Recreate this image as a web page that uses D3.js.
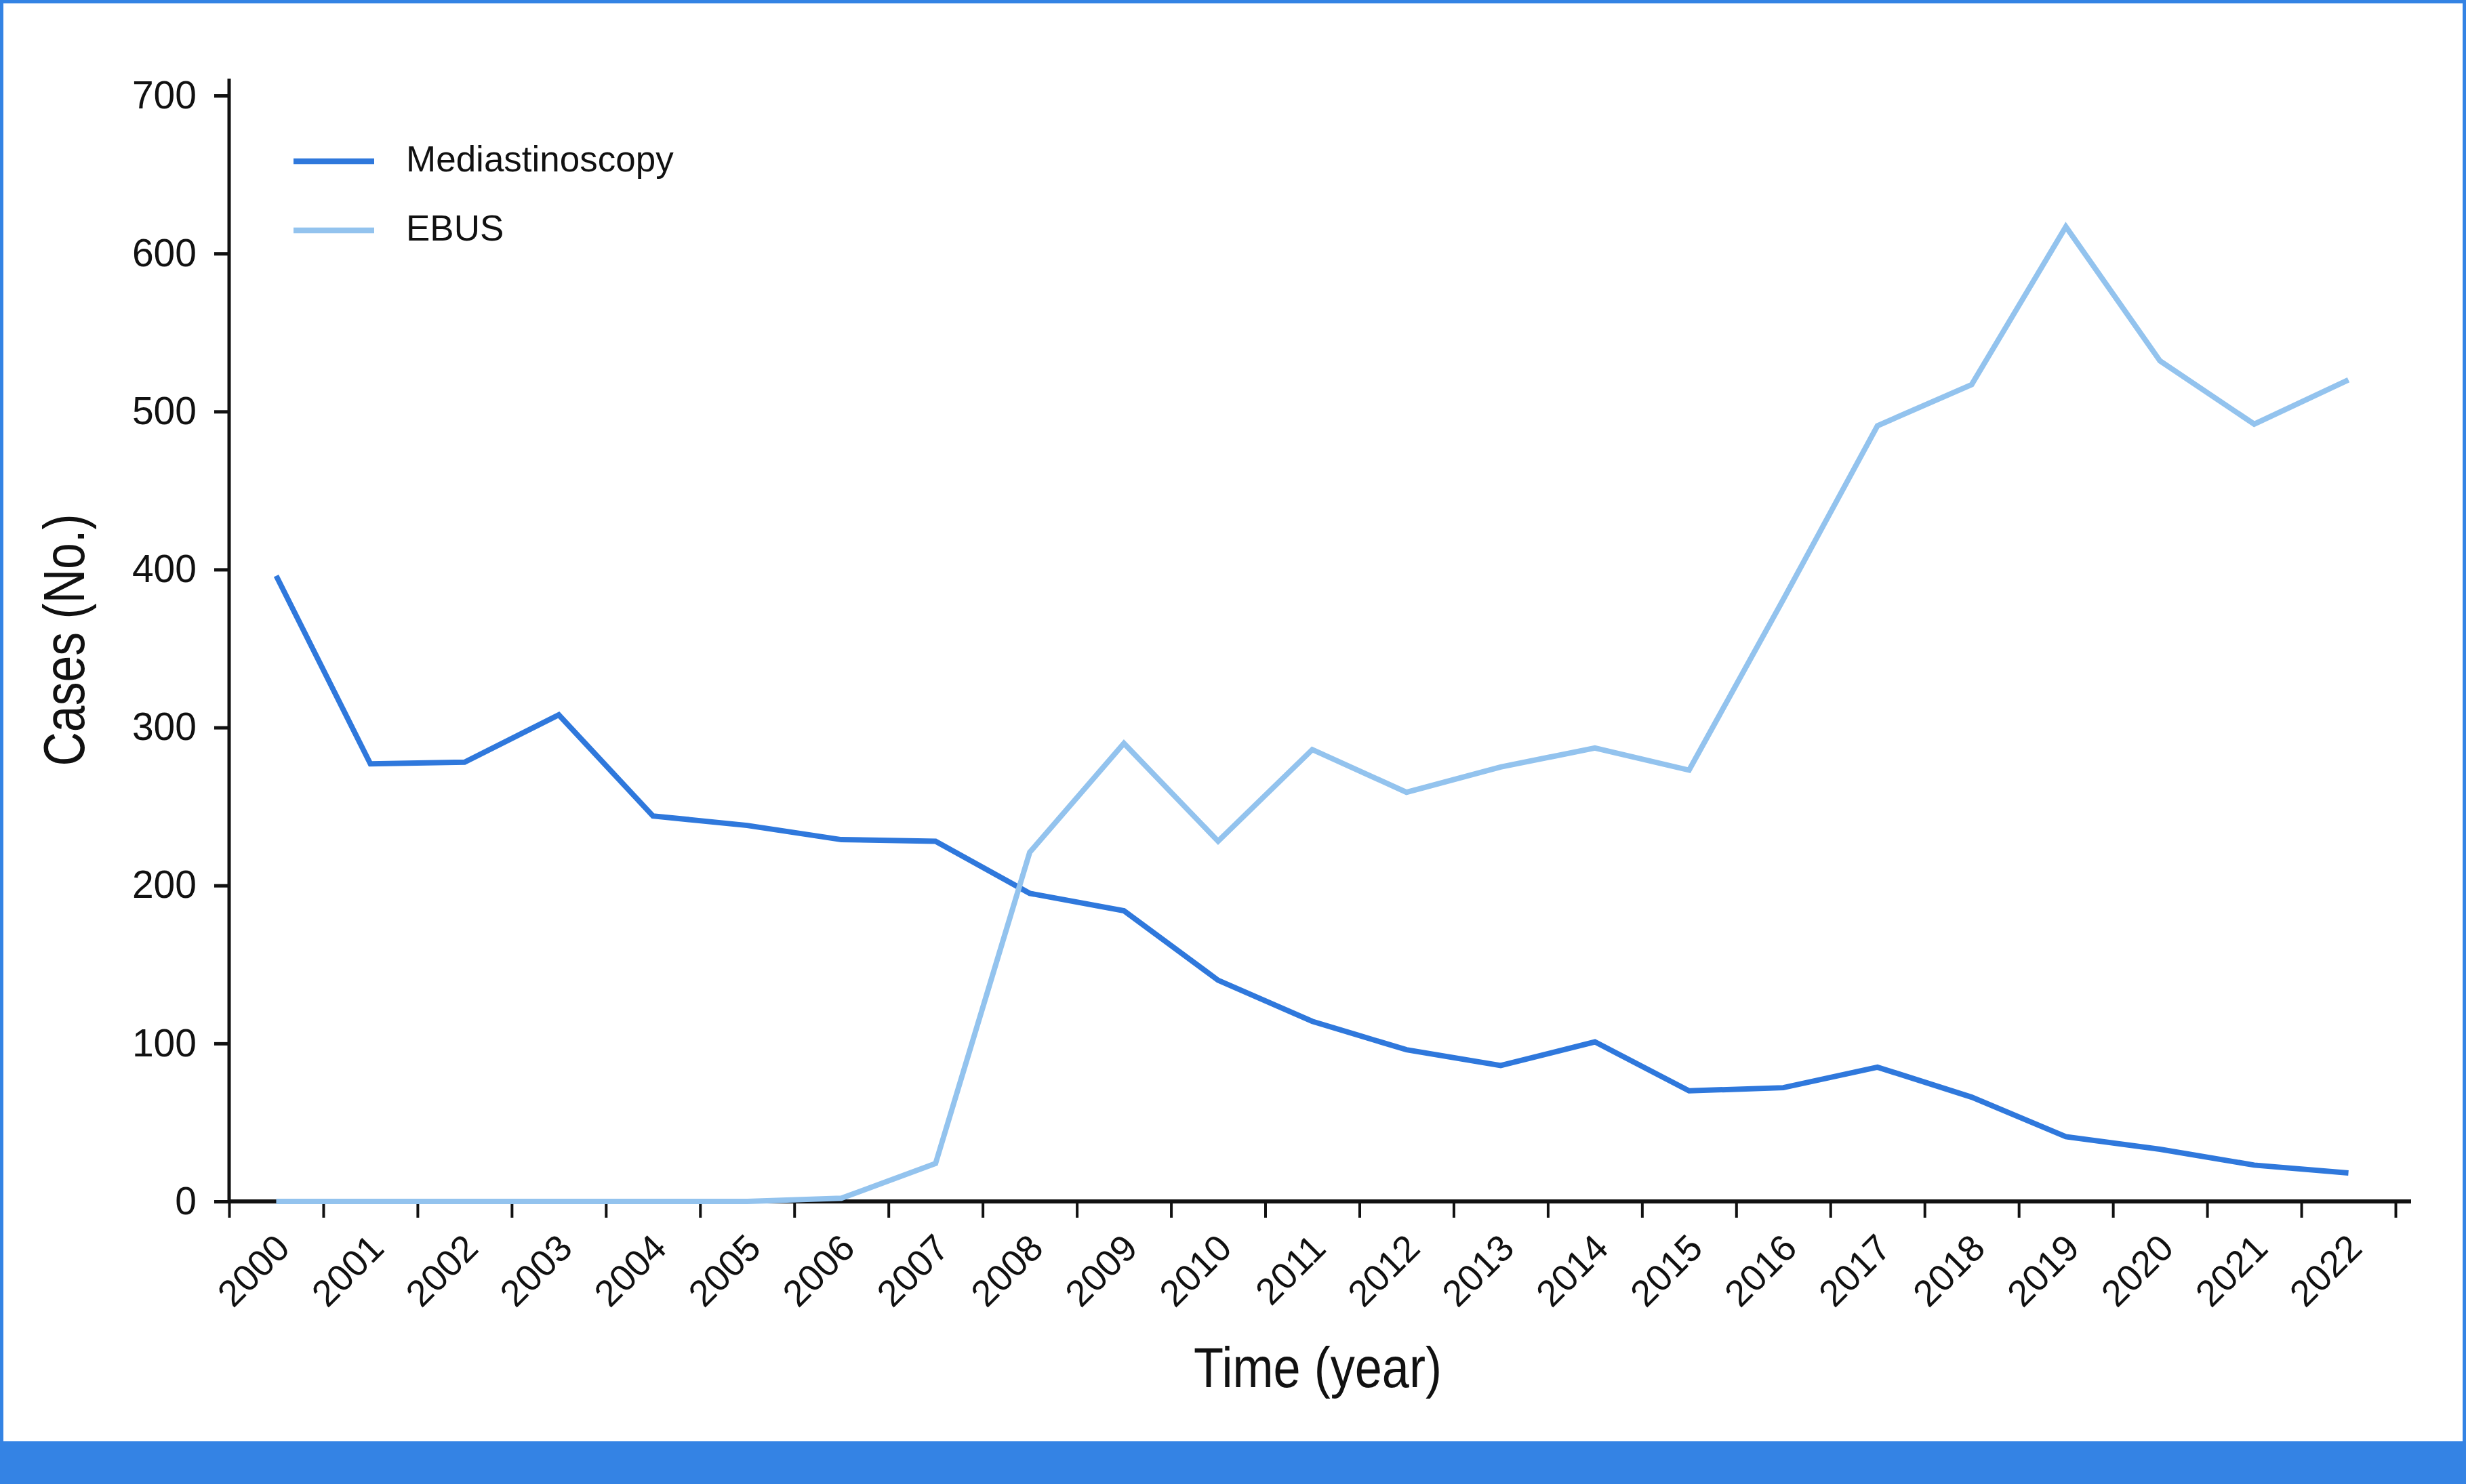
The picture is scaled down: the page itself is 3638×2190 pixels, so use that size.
<!DOCTYPE html>
<html>
<head>
<meta charset="utf-8">
<script src="https://cdn.jsdelivr.net/npm/d3@7"></script>
<style>
  body { margin: 0; background: #fff; }
  text { font-family: "Liberation Sans", Arial, sans-serif; fill: #111; }
</style>
</head>
<body>
<div id="chart"></div>
<script>
const years = ["2000", "2001", "2002", "2003", "2004", "2005", "2006", "2007", "2008", "2009", "2010",
  "2011", "2012", "2013", "2014", "2015", "2016", "2017", "2018", "2019", "2020", "2021", "2022"];
const mediastinoscopy = [396, 277, 278, 308, 244, 238, 229, 228, 195, 184, 140, 114, 96, 86, 101, 70, 72, 85, 66, 41, 33, 23, 18];
const ebus = [0, 0, 0, 0, 0, 0, 2, 24, 221, 290, 228, 286, 259, 275, 287, 273, 381, 491, 517, 617, 532, 492, 520];
const yTicks = [0, 100, 200, 300, 400, 500, 600, 700];
const seriesNames = ["Mediastinoscopy", "EBUS"];

const rootWidth = 3638;
const rootHeight = 2190;
const margin = { top: 141, right: 104, bottom: 417, left: 338 };
const darkBlue = "#2f78dc";
const lightBlue = "#93c3ee";
const frameBlue = "#3483e4";

const root = d3
  .select("#chart")
  .append("svg")
  .attr("width", rootWidth)
  .attr("height", rootHeight);

// frame and bottom band
root.append("rect")
  .attr("x", 2.5).attr("y", 2.5)
  .attr("width", rootWidth - 5).attr("height", rootHeight - 5)
  .attr("fill", "none").attr("stroke", frameBlue).attr("stroke-width", 5);
root.append("rect")
  .attr("x", 0).attr("y", 2127)
  .attr("width", rootWidth).attr("height", rootHeight - 2127)
  .attr("fill", frameBlue);

const xScale = d3.scaleLinear()
  .domain([0, years.length])
  .range([margin.left, rootWidth - margin.right]);
const yScale = d3.scaleLinear()
  .domain([0, 700])
  .range([rootHeight - margin.bottom, margin.top]);

// y axis
const yAxis = root.append("g")
  .attr("transform", `translate(${margin.left}, 0)`)
  .call(d3.axisLeft(yScale).tickValues(yTicks).tickSize(22).tickPadding(26).tickSizeOuter(0));
yAxis.select(".domain").remove();
yAxis.selectAll(".tick line").attr("stroke", "#111").attr("stroke-width", 5);
yAxis.selectAll(".tick text")
  .attr("font-size", 57)
  .attr("font-family", "Liberation Sans, Arial, sans-serif")
  .attr("fill", "#111");
yAxis.append("line")
  .attr("x1", 0).attr("x2", 0)
  .attr("y1", yScale(0) + 3).attr("y2", yScale(700) - 25)
  .attr("stroke", "#111").attr("stroke-width", 5);

// x axis (ticks at year boundaries)
const xAxis = root.append("g")
  .attr("transform", `translate(0, ${yScale(0)})`)
  .call(d3.axisBottom(xScale).tickValues(d3.range(0, years.length + 1)).tickSize(24).tickFormat("").tickSizeOuter(0));
xAxis.select(".domain").remove();
xAxis.selectAll(".tick line").attr("stroke", "#111").attr("stroke-width", 4);
xAxis.append("line")
  .attr("x1", xScale(0) - 2).attr("x2", xScale(years.length) + 23)
  .attr("y1", 0).attr("y2", 0)
  .attr("stroke", "#111").attr("stroke-width", 6);

root.append("g")
  .selectAll("text")
  .data(years)
  .join("text")
  .attr("transform", (d, i) => `translate(${xScale(i + 0.5) + 23}, ${yScale(0) + 72}) rotate(-45)`)
  .attr("text-anchor", "end")
  .attr("font-size", 55)
  .text((d) => d);

// axis titles
root.append("text")
  .attr("x", (xScale(0) + xScale(years.length)) / 2 + 8)
  .attr("y", 2047)
  .attr("text-anchor", "middle")
  .attr("font-size", 84)
  .attr("textLength", 366)
  .attr("lengthAdjust", "spacingAndGlyphs")
  .text("Time (year)");

root.append("text")
  .attr("transform", `translate(124, ${(yScale(0) + yScale(700) - 25) / 2}) rotate(-90)`)
  .attr("text-anchor", "middle")
  .attr("font-size", 86)
  .attr("textLength", 372)
  .attr("lengthAdjust", "spacingAndGlyphs")
  .text("Cases (No.)");

// lines
const line = d3.line()
  .x((d, i) => xScale(i + 0.5))
  .y((d) => yScale(d));

root.append("path")
  .datum(mediastinoscopy)
  .attr("d", line)
  .attr("fill", "none")
  .attr("stroke", darkBlue)
  .attr("stroke-width", 8);

root.append("path")
  .datum(ebus)
  .attr("d", line)
  .attr("fill", "none")
  .attr("stroke", lightBlue)
  .attr("stroke-width", 8);

// legend
const legend = root.append("g")
  .selectAll("g")
  .data(seriesNames)
  .join("g")
  .attr("transform", (d, i) => `translate(433, ${238 + i * 102})`);
legend.append("line")
  .attr("x1", 0).attr("x2", 119)
  .attr("stroke", (d, i) => (i === 0 ? darkBlue : lightBlue))
  .attr("stroke-width", 8.5);
legend.append("text")
  .attr("x", 166)
  .attr("y", 15)
  .attr("font-size", 53)
  .text((d) => d);
</script>
</body>
</html>
